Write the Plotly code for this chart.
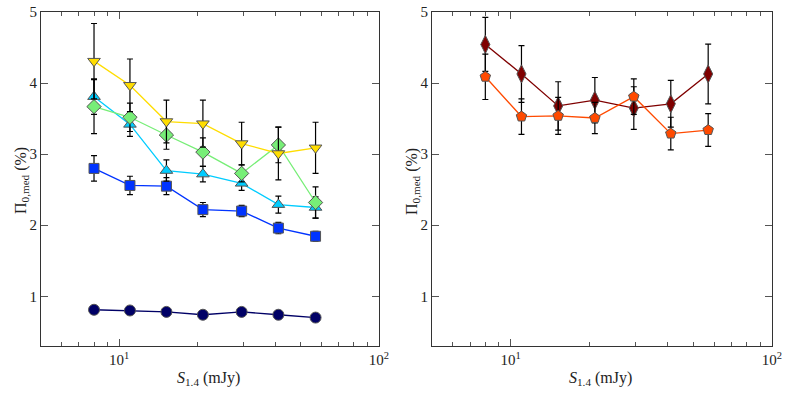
import plotly.graph_objects as go
from plotly.subplots import make_subplots

# flux bins (mJy)
s14 = [8.0, 11.0, 15.2, 21.0, 29.6, 41.0, 57.0]

# left panel series
navy_y = [0.81, 0.80, 0.78, 0.74, 0.78, 0.74, 0.70]
navy_err = [0.02, 0.02, 0.02, 0.02, 0.02, 0.02, 0.02]
blue_y = [2.80, 2.56, 2.55, 2.22, 2.20, 1.96, 1.845]
blue_err = [0.18, 0.13, 0.12, 0.10, 0.08, 0.08, 0.07]
cyan_y = [3.81, 3.42, 2.77, 2.72, 2.59, 2.29, 2.25]
cyan_err = [0.25, 0.17, 0.15, 0.11, 0.10, 0.12, 0.15]
green_y = [3.67, 3.52, 3.27, 3.03, 2.73, 3.13, 2.32]
green_err = [0.38, 0.20, 0.20, 0.20, 0.12, 0.25, 0.22]
yellow_y = [4.31, 3.97, 3.46, 3.43, 3.15, 3.01, 3.09]
yellow_err = [0.53, 0.37, 0.30, 0.33, 0.30, 0.37, 0.36]

# right panel series
dred_y = [4.545, 4.13, 3.68, 3.76, 3.65, 3.71, 4.13]
dred_err = [0.38, 0.40, 0.34, 0.32, 0.30, 0.33, 0.42]
orange_y = [4.09, 3.53, 3.54, 3.51, 3.81, 3.29, 3.34]
orange_err = [0.32, 0.25, 0.26, 0.22, 0.25, 0.23, 0.23]

FONT = "'Liberation Serif', 'DejaVu Serif', serif"

W, H = 789, 393


def px(x):
    return x / W


def py(y):
    return 1 - y / H


fig = make_subplots(rows=1, cols=2)


def add_series(y, err, color, symbol, col, size=10):
    fig.add_trace(go.Scatter(
        x=s14, y=y, mode="lines+markers",
        line=dict(color=color, width=1.3),
        marker=dict(symbol=symbol, size=size, color=color,
                    line=dict(color="#555555", width=1)),
        error_y=dict(type="data", array=err, color="black",
                     thickness=1.2, width=3),
        showlegend=False,
    ), row=1, col=col)


add_series(navy_y, navy_err, "#000066", "circle", 1, 11)
add_series(blue_y, blue_err, "#0033ff", "square", 1, 10)
add_series(cyan_y, cyan_err, "#00ccff", "triangle-up", 1, 11)
add_series(green_y, green_err, "#77ee77", "diamond", 1, 11)
add_series(yellow_y, yellow_err, "#ffdd00", "triangle-down", 1, 11)

add_series(dred_y, dred_err, "#7f0000", "diamond-tall", 2, 13)
add_series(orange_y, orange_err, "#ff4a00", "pentagon", 2, 11)

xaxis_style = dict(
    type="log", range=[0.699, 2.0001], automargin=False,
    tickvals=[10, 100], ticktext=["10<sup>1</sup>", "10<sup>2</sup>"],
    ticks="inside", ticklen=7, tickcolor="#555555",
    minor=dict(ticks="inside", ticklen=4, tickcolor="#555555",
               tickvals=[6, 7, 8, 9, 20, 30, 40, 50, 60, 70, 80, 90]),
    showline=True, linecolor="#333333", linewidth=1, mirror="ticks",
    showgrid=False, zeroline=False,
    tickfont=dict(size=15, family=FONT),
)
yaxis_style = dict(
    range=[0.3, 5.002], tickvals=[1, 2, 3, 4, 5], automargin=False,
    ticks="inside", ticklen=7, tickcolor="#555555",
    showline=True, linecolor="#333333", linewidth=1, mirror="ticks",
    showgrid=False, zeroline=False,
    tickfont=dict(size=15, family=FONT),
)

xtitle = "<i>S</i><sub>1.4</sub> (mJy)"
ytitle = "Π<sub>0,med</sub> (%)"


def title(text, x, y, angle=0):
    return dict(text=text, x=px(x), y=py(y), xref="paper", yref="paper",
                xanchor="center", yanchor="middle", showarrow=False,
                textangle=angle, font=dict(size=16, family=FONT))


fig.update_layout(
    width=W, height=H,
    margin=dict(l=0, r=0, t=0, b=0),
    plot_bgcolor="white", paper_bgcolor="white",
    font=dict(family=FONT, color="#222222"),
    xaxis=dict(domain=[px(41), px(379)], **xaxis_style),
    xaxis2=dict(domain=[px(432), px(772)], **xaxis_style),
    yaxis=dict(domain=[py(346), py(12)], **yaxis_style),
    yaxis2=dict(domain=[py(346), py(12)], **yaxis_style),
    annotations=[
        title(xtitle, 208, 378),
        title(xtitle, 600, 378),
        title(ytitle, 21, 181, -90),
        title(ytitle, 412, 181, -90),
    ],
)

# drop the default page margin so the figure fills the window exactly
fig.write_html("out.html", config={"displayModeBar": False},
               post_script="document.body.style.margin='0px';")
